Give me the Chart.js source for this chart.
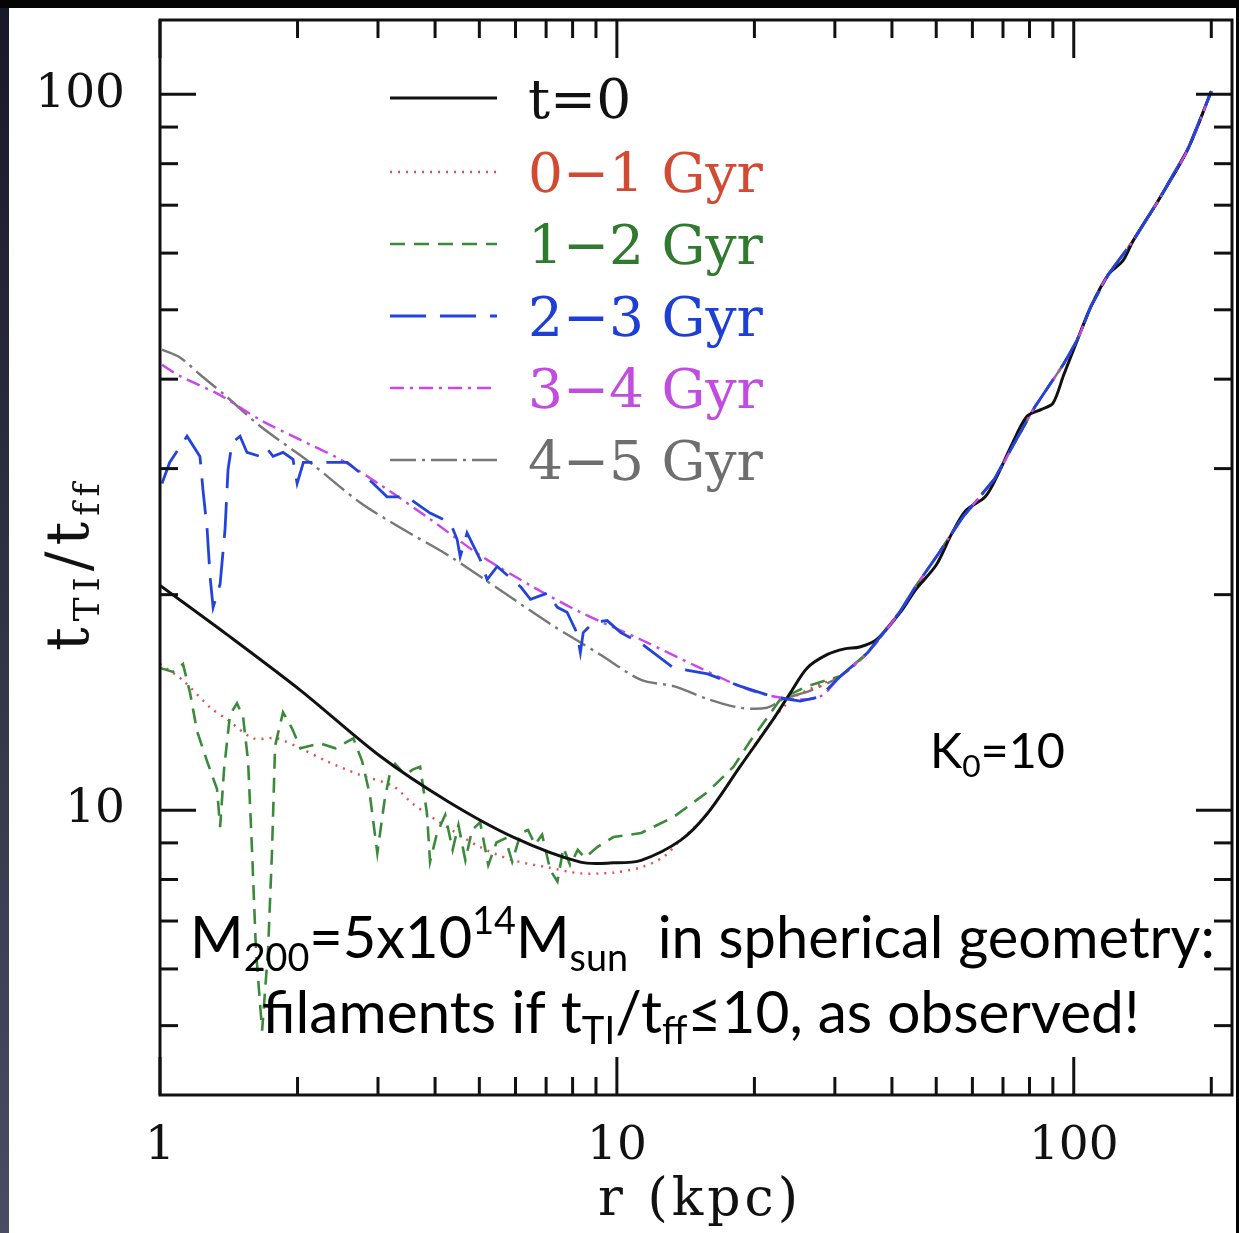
<!DOCTYPE html>
<html>
<head>
<meta charset="utf-8">
<script src="https://cdn.jsdelivr.net/npm/chart.js@4.4.1/dist/chart.umd.min.js"></script>
<style>
  html, body { margin: 0; padding: 0; background: #fff; overflow: hidden; }
</style>
</head>
<body>
<canvas id="c" width="1239" height="1233"></canvas>
<script>
// t_TI / t_ff profiles vs radius (kpc), one pair of arrays per time bin
const rT0 = [1.00, 1.40, 2.03, 3.03, 4.25, 5.93, 8.32, 9.83, 11.3, 13.8, 15.8, 18.6, 22.0, 24.0, 26.1, 28.9, 31.5, 34.0,
  37.0, 42, 45, 50, 54, 58, 64, 68, 73, 79, 85, 90, 95, 102, 109, 119, 128, 135, 153, 178, 200]
const vT0 = [20.6, 17.6, 14.7, 11.9, 10.3, 9.17, 8.46, 8.44, 8.51, 9.08, 9.9, 11.5, 13.4, 14.6, 15.8, 16.5, 16.8, 16.9,
  17.3, 19.0, 20.3, 22.0, 24.3, 26.2, 27.4, 29.3, 32.3, 35.5, 36.3, 37.0, 40.5, 45.5, 50.5, 56, 58.5, 62.5, 71, 84, 101]

const r01 = [1.00, 1.12, 1.29, 1.40, 1.60, 1.80, 2.03, 2.32, 2.74, 3.24, 3.58, 4.25, 5.02, 5.93, 7.04, 8.32, 9.83, 11.3,
  12.6, 13.8, 15.8, 18.6, 22.0, 24.5, 28.0]
const v01 = [16.0, 15.2, 13.9, 13.4, 12.6, 12.6, 12.2, 11.7, 11.2, 10.8, 10.2, 9.47, 8.88, 8.51, 8.32, 8.16, 8.18, 8.32,
  8.59, 9.08, 9.9, 11.5, 13.4, 14.4, 15.0]

const r12 = [1.00, 1.068, 1.123, 1.163, 1.205, 1.268, 1.333, 1.354, 1.381, 1.423, 1.474, 1.520, 1.559, 1.590, 1.622,
  1.673, 1.724, 1.759, 1.786, 1.859, 1.946, 2.03, 2.24, 2.42, 2.65, 2.77, 2.88, 2.99, 3.10, 3.19, 3.27, 3.44, 3.58,
  3.71, 3.84, 3.90, 4.04, 4.21, 4.37, 4.50, 4.66, 4.82, 5.02, 5.23, 5.45, 5.70, 5.90, 6.16, 6.39, 6.62, 6.86, 7.15,
  7.41, 7.64, 7.90, 8.21, 8.51, 9.06, 9.83, 11.3, 13.3, 15.8, 18.0, 19.6, 21.4, 22.8, 26.1]
const v12 = [15.8, 15.6, 16.0, 14.6, 12.9, 11.7, 10.7, 9.47, 11.4, 13.6, 14.1, 13.5, 11.7, 8.80, 6.37,
  4.92, 6.37, 8.80, 12.3, 13.7, 13.0, 12.2, 12.4, 12.2, 12.6, 11.7, 10.5, 8.71, 10.3, 11.3, 11.6, 11.2, 11.4,
  11.5, 9.9, 8.47, 9.29, 9.85, 8.8, 9.53, 8.51, 9.38, 9.62, 8.38, 9.01, 9.13, 8.47, 9.29, 9.38, 8.95, 9.24, 8.24,
  7.95, 8.86, 8.38, 8.80, 8.58, 8.88, 9.17, 9.29, 9.78, 10.6, 11.5, 12.5, 13.5, 14.3, 14.9]

const r23 = [1.01, 1.05, 1.146, 1.223, 1.242, 1.268, 1.287, 1.307, 1.354, 1.388, 1.409, 1.438, 1.497, 1.550, 1.655,
  1.715, 1.768, 1.859, 1.955, 1.996, 2.06, 2.21, 2.44, 2.57, 2.74, 2.93, 3.14, 3.47, 3.90, 4.32, 4.47, 4.54, 4.70,
  5.02, 5.20, 5.47, 6.16, 6.47, 7.04, 7.41, 7.78, 8.17, 8.32, 8.44, 8.89, 9.52, 10.2, 11.3, 13.3, 15.8, 18.6, 22.0,
  25.2, 27.8]
const v23 = [28.6, 30.6, 33.3, 31.2, 28.0, 24.7, 21.2, 19.2, 20.7, 24.7, 29.9, 32.6, 33.3, 31.6, 31.2,
  32.0, 31.2, 31.6, 30.9, 28.6, 30.6, 30.6, 30.6, 30.6, 29.6, 28.6, 27.4, 27.4, 26.0, 25.2, 23.9, 22.6, 24.4,
  22.4, 21.0, 21.9, 20.5, 19.7, 20.1, 19.2, 18.9, 17.7, 16.6, 17.7, 18.3, 18.4, 17.7, 17.1, 15.8, 15.5, 14.9, 14.4,
  14.2, 14.4]

const r34 = [1.01, 1.106, 1.354, 1.655, 2.03, 2.48, 3.03, 3.90, 5.02, 6.47, 8.32, 11.3, 15.2, 19.6, 24.0, 27.8]
const v34 = [41.9, 40.4, 38.0, 35.1, 32.9, 30.9, 28.5, 25.5, 22.7, 20.6, 18.9, 17.3, 15.8, 14.7, 14.3, 14.4]

const r45 = [1.01, 1.106, 1.223, 1.40, 1.655, 2.13, 2.74, 3.36, 4.32, 5.55, 7.15, 9.19, 11.3, 13.3, 15.8, 18.6, 21.3,
  23.2, 26.6]
const v45 = [44.0, 42.9, 40.6, 37.8, 34.4, 30.6, 26.9, 24.8, 22.6, 20.3, 18.2, 16.5, 15.2, 14.9, 14.3, 13.9, 13.9,
  14.3, 14.7]

// outer rise shared by the evolved profiles
const riseR = [30.9, 35.4, 41.8, 45, 51, 57, 67, 73, 82, 95, 102, 109, 119, 135, 153, 178, 200]
const riseV = [15.4, 16.6, 19.0, 20.5, 23.0, 25.6, 29.0, 32.0, 36.5, 42, 45.5, 50.5, 56, 62.5, 71, 84, 101]

const seriesNames = ['t=0', '0\u22121 Gyr', '1\u22122 Gyr', '2\u22123 Gyr', '3\u22124 Gyr', '4\u22125 Gyr']
const xTickValues = [1, 10, 100]
const yTickValues = [10, 100]

// styles
const lineColors = ['#111111', '#e05050', '#3a8a3a', '#2244dd', '#cc44ee', '#777777']
const textColors = ['#111111', '#d24a32', '#2f7a2f', '#1c3fd6', '#c24ce0', '#6e6e6e']
const lineDashes = [[], [2, 6], [15, 9], [36, 14], [14, 6, 3, 6], [26, 6, 3, 6]]
const lineWidths = [3, 2.4, 2.6, 2.8, 2.4, 2.4]
const drawOrder = [2, 4, 3, 0, 1, 5]

function pts(rs, vs) {
    return rs.map((r, i) => ({ x: r, y: vs[i] }))
}

const seriesData = [
    pts(rT0, vT0),
    pts(r01.concat(riseR), v01.concat(riseV)),
    pts(r12.concat(riseR), v12.concat(riseV)),
    pts(r23.concat(riseR), v23.concat(riseV)),
    pts(r34.concat(riseR), v34.concat(riseV)),
    pts(r45.concat(riseR), v45.concat(riseV))
]

const serif = '"DejaVu Serif", "Liberation Serif", serif'
const sans = 'Lato, "Open Sans", sans-serif'

function line(ctx, x1, y1, x2, y2) {
    ctx.beginPath()
    ctx.moveTo(x1, y1)
    ctx.lineTo(x2, y2)
    ctx.stroke()
}

// text made of runs with their own size and baseline shift
function richWidth(ctx, parts, family, k) {
    let w = 0
    for (const p of parts) {
        ctx.font = `${p.s * k}px ${family}`
        w += ctx.measureText(p.t).width
    }
    return w
}

function drawRich(ctx, parts, family, x, y, width) {
    const k = width / richWidth(ctx, parts, family, 1)
    for (const p of parts) {
        ctx.font = `${p.s * k}px ${family}`
        ctx.fillText(p.t, x, y + (p.dy || 0) * k)
        x += ctx.measureText(p.t).width
    }
}

const decor = {
    id: 'decor',
    beforeDraw(chart) {
        const ctx = chart.ctx
        const W = chart.width, H = chart.height
        ctx.save()
        ctx.fillStyle = '#ffffff'
        ctx.fillRect(0, 0, W, H)
        const g = ctx.createLinearGradient(0, 0, 0, H)
        g.addColorStop(0, '#17182a')
        g.addColorStop(1, '#4a4d62')
        ctx.fillStyle = g
        ctx.fillRect(0, 0, 9, H)
        ctx.fillStyle = '#050505'
        ctx.fillRect(0, 0, W, 8)
        ctx.fillRect(W - 3, 0, 3, H)
        ctx.restore()
    },
    afterDraw(chart) {
        const ctx = chart.ctx
        const { left, right, top, bottom } = chart.chartArea
        const xs = chart.scales.x, ys = chart.scales.y
        ctx.save()

        // frame and inward ticks on all four sides
        ctx.strokeStyle = '#111'
        ctx.lineWidth = 3
        ctx.strokeRect(left, top, right - left, bottom - top)
        for (let d = 1; d <= 100; d *= 10) {
            for (let m = 1; m <= 9; m++) {
                const v = d * m
                if (v < xs.min || v > xs.max) continue
                const px = xs.getPixelForValue(v)
                const len = m === 1 ? 38 : 18
                line(ctx, px, bottom, px, bottom - len)
                line(ctx, px, top, px, top + len)
            }
        }
        for (let d = 1; d <= 100; d *= 10) {
            for (let m = 1; m <= 9; m++) {
                const v = d * m
                if (v <= ys.min || v > ys.max) continue
                const py = ys.getPixelForValue(v)
                const len = m === 1 ? 36 : 18
                line(ctx, left, py, left + len, py)
                line(ctx, right, py, right - len, py)
            }
        }

        // legend
        const rowY = [98, 172, 244, 316, 388, 460]
        chart.data.datasets.forEach((ds, i) => {
            ctx.setLineDash(ds.borderDash)
            ctx.strokeStyle = ds.borderColor
            ctx.lineWidth = ds.borderWidth
            line(ctx, 390, rowY[i], 497, rowY[i])
            ctx.setLineDash([])
            ctx.fillStyle = textColors[i]
            ctx.font = `55px ${serif}`
            ctx.textBaseline = 'alphabetic'
            ctx.fillText(seriesNames[i], 528, rowY[i] + 20)
        })

        // axis titles
        ctx.fillStyle = '#111'
        ctx.font = `52px ${serif}`
        ctx.letterSpacing = '4px'
        ctx.textAlign = 'center'
        ctx.fillText('r (kpc)', 700, 1215)
        ctx.textAlign = 'left'
        ctx.letterSpacing = '6px'
        ctx.save()
        ctx.translate(88, 563)
        ctx.rotate(-Math.PI / 2)
        const yTitle = [{ t: 't', s: 56 }, { t: 'TI', s: 34, dy: 10 }, { t: '/t', s: 56 }, { t: 'ff', s: 34, dy: 10 }]
        drawRich(ctx, yTitle, serif, -88, 0, 176)
        ctx.restore()
        ctx.letterSpacing = '0px'

        // annotations
        ctx.fillStyle = '#000'
        drawRich(ctx, [{ t: 'K', s: 52 }, { t: '0', s: 34, dy: 10 }, { t: '=10', s: 52 }], sans, 930, 768, 135)
        drawRich(ctx, [
            { t: 'M', s: 52 }, { t: '200', s: 34, dy: 12 }, { t: '=5x10', s: 52 }, { t: '14', s: 34, dy: -22 },
            { t: 'M', s: 52 }, { t: 'sun', s: 34, dy: 12 }, { t: '  in spherical geometry:', s: 52 }
        ], sans, 190, 958, 1025)
        drawRich(ctx, [
            { t: 'filaments if t', s: 52 }, { t: 'TI', s: 34, dy: 10 }, { t: '/t', s: 52 }, { t: 'ff', s: 34, dy: 10 },
            { t: '\u226410, as observed!', s: 52 }
        ], sans, 262, 1033, 878)

        ctx.restore()
    }
}

new Chart(document.getElementById('c'), {
    type: 'scatter',
    data: {
        datasets: seriesData.map((d, i) => ({
            label: seriesNames[i],
            data: d,
            showLine: true,
            pointRadius: 0,
            borderColor: lineColors[i],
            borderWidth: lineWidths[i],
            borderDash: lineDashes[i],
            tension: (i === 2 || i === 3) ? 0 : 0.3,
            order: drawOrder[i]
        }))
    },
    options: {
        responsive: false,
        animation: false,
        devicePixelRatio: 1,
        layout: { padding: { top: 20, right: 7, left: 0, bottom: 0 } },
        plugins: { legend: { display: false }, tooltip: { enabled: false } },
        scales: {
            x: {
                type: 'logarithmic',
                min: 1,
                max: 222,
                grid: { display: false, drawTicks: false },
                border: { display: false },
                afterBuildTicks: s => { s.ticks = xTickValues.map(v => ({ value: v })) },
                afterFit: s => {
                    s.height = 138
                    s.paddingLeft = 0
                    s.paddingRight = 0
                },
                ticks: {
                    callback: v => String(v),
                    autoSkip: false,
                    maxRotation: 0,
                    padding: 24,
                    color: '#111',
                    font: { family: serif, size: 47 }
                }
            },
            y: {
                type: 'logarithmic',
                min: 4,
                max: 127,
                grid: { display: false, drawTicks: false },
                border: { display: false },
                afterBuildTicks: s => { s.ticks = yTickValues.map(v => ({ value: v })) },
                afterFit: s => {
                    s.width = 160
                    s.paddingTop = 0
                    s.paddingBottom = 0
                },
                ticks: {
                    callback: v => String(v),
                    autoSkip: false,
                    padding: 35,
                    color: '#111',
                    font: { family: serif, size: 47 }
                }
            }
        }
    },
    plugins: [decor]
})
</script>
</body>
</html>
